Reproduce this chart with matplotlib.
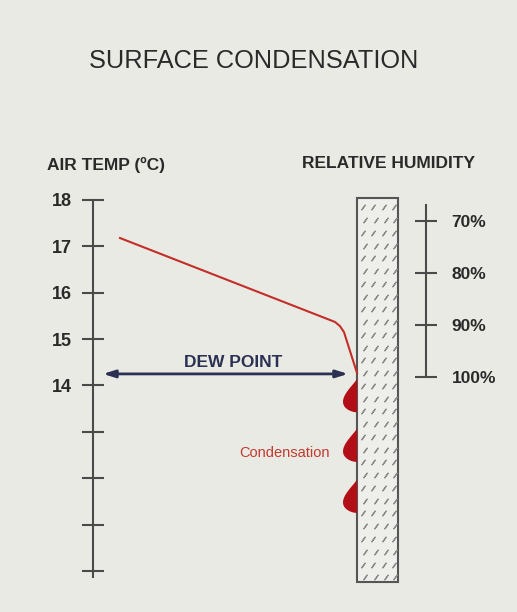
import numpy as np
import matplotlib
matplotlib.use('Agg')
import matplotlib.pyplot as plt
from matplotlib.patches import Rectangle, Polygon

plt.rcParams['font.family'] = ['Liberation Sans', 'DejaVu Sans']

# air temperature scale (left)
temp_ticks = [10, 11, 12, 13, 14, 15, 16, 17, 18]
temp_labels = ['', '', '', '', '14', '15', '16', '17', '18']

# relative humidity scale (right)
rh_ticks = [70, 80, 90, 100]
rh_labels = ['70%', '80%', '90%', '100%']

# air temperature profile towards the wall
profile_dist = [27, 242, 247, 251, 264]
profile_temp = [17.18, 15.37, 15.28, 15.15, 14.27]

# dew point
dew_point = 14.25
dew_span = [10, 255]

# droplets on the wall face (temperature at top of each drop)
drop_tops = [14.15, 13.08, 11.98]

# colours
bg = '#e9eae3'
ink = '#2a2a2a'
axis_col = '#4a4a4a'
navy = '#2b3152'
red_line = '#c42d28'
drop_red = '#b10e18'

W, H = 517, 612


def px_box(x0, y0, x1, y1):
    return [x0 / W, 1 - y1 / H, (x1 - x0) / W, (y1 - y0) / H]


fig = plt.figure(figsize=(W / 100, H / 100), dpi=100)
fig.patch.set_facecolor(bg)

# main axes: x = distance from the scale, y = temperature
ax = fig.add_axes(px_box(93, 150, 517, 600))
ax.set_xlim(0, 424)
ax.set_ylim(10 - 29 / 46.375, 18 + 50 / 46.375)
ax.patch.set_visible(False)
for s in ['top', 'right', 'bottom']:
    ax.spines[s].set_visible(False)
ax.spines['left'].set_color(axis_col)
ax.spines['left'].set_linewidth(1.5)
ax.spines['left'].set_bounds(9.87, 18)
ax.set_xticks([])
ax.set_yticks(temp_ticks)
ax.set_yticklabels(temp_labels, fontweight='bold')
ax.tick_params(axis='y', direction='inout', length=15.8, width=1.5,
               color=axis_col, pad=7, labelsize=13, labelcolor=ink)

# wall
wall_x, wall_w = 264, 41
wall_top, wall_bot = 18.04, 9.76
ax.add_patch(Rectangle((wall_x, wall_bot), wall_w, wall_top - wall_bot,
                       facecolor='#eeefeb', edgecolor='#555555', lw=1.5, zorder=2))
# wall texture: short slanted dashes
cols = np.array([269.5, 280, 290.5, 300.5])
rows = np.arange(wall_top - 0.2, wall_bot + 0.1, -0.275)
dx, dy = [], []
for i, r in enumerate(rows):
    off = 2.5 if i % 2 else 0
    for c in cols:
        dx.append(min(c + off, 302))
        dy.append(r)
ax.scatter(dx, dy, marker=(2, 2, -35), s=16, linewidths=0.9,
           color='#8c8c8c', zorder=3)

# temperature profile
ax.plot(profile_dist, profile_temp, color=red_line, lw=1.5,
        solid_joinstyle='round', zorder=4)

# droplets
drop_w, drop_h = 14, 0.73
p, q = 1.3, 0.6
s = np.linspace(0, 1, 80)
r = s ** p * (1 - s) ** q
r = r / r.max() * drop_w
for t0 in drop_tops:
    xs = wall_x - r
    ys = t0 - s * drop_h
    ax.add_patch(Polygon(np.column_stack([xs, ys]), closed=True,
                         facecolor=drop_red, edgecolor='none', zorder=5))

# dew point arrow
ax.annotate('', xy=(dew_span[0], dew_point), xytext=(dew_span[1], dew_point),
            arrowprops=dict(arrowstyle='<|-|>,head_length=0.7,head_width=0.22',
                            color=navy, lw=2, shrinkA=0, shrinkB=0), zorder=4)
ax.text(140, dew_point + 0.25, 'DEW POINT', ha='center', va='center',
        fontsize=12.5, fontweight='bold', color=navy)

ax.text(284.5 - 93, 12.54, 'Condensation', ha='center', va='center',
        fontsize=10.5, color='#c23a30')

# humidity scale
ax2 = fig.add_axes(px_box(300, 150, 426, 600))
ax2.patch.set_visible(False)
ax2.set_ylim(100 + 223 / 5.2, 70 - 71 / 5.2)
for sp in ['top', 'left', 'bottom']:
    ax2.spines[sp].set_visible(False)
ax2.spines['right'].set_color(axis_col)
ax2.spines['right'].set_linewidth(1.5)
ax2.spines['right'].set_bounds(66.9, 100)
ax2.set_xticks([])
ax2.yaxis.tick_right()
ax2.set_yticks(rh_ticks)
ax2.set_yticklabels(rh_labels, fontweight='bold')
ax2.tick_params(axis='y', direction='inout', length=15.8, width=1.5,
                color=axis_col, pad=10.5, labelsize=12.5, labelcolor=ink)

# titles
fig.text(253.5 / W, 1 - 61 / H, 'SURFACE CONDENSATION', ha='center', va='center',
         fontsize=18.3, color=ink)
fig.text(47 / W, 1 - 165 / H, 'AIR TEMP (ºC)', ha='left', va='center',
         fontsize=12.5, fontweight='bold', color=ink)
fig.text(302 / W, 1 - 164 / H, 'RELATIVE HUMIDITY', ha='left', va='center',
         fontsize=12.5, fontweight='bold', color=ink)

fig.savefig('out.png', dpi=100, facecolor=bg)
